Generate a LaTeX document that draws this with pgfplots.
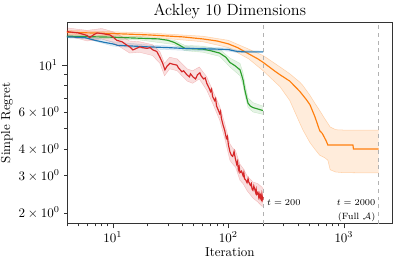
\documentclass[border=0pt]{standalone}
\usepackage{pgfplots}
\pgfplotsset{compat=1.18}
\usepackage{pgfplotstable}
\usepgfplotslibrary{fillbetween}
\definecolor{tabblue}{HTML}{1F77B4}
\definecolor{taborange}{HTML}{FF7F0E}
\definecolor{tabgreen}{HTML}{2CA02C}
\definecolor{tabred}{HTML}{D62728}

\pgfplotstableread{
x y
4 13.6
5.7 13.5
7 13.1
8.5 12.8
10 12.6
11 12.4
15 12.3
20 12.2
30 12.1
40 12.0
60 11.95
80 11.9
100 11.85
110 11.7
120 11.6
140 11.55
200 11.55
}\bluemean
\pgfplotstableread{
x lo hi
4 13.45 13.75
6 13.3 13.7
10 12.3 12.9
20 11.95 12.45
40 11.75 12.25
100 11.65 12.05
120 11.45 11.75
200 11.45 11.65
}\blueband

\pgfplotstableread{
x y
4 13.7
10 13.55
17 13.4
25 13.3
30 13.1
34 12.8
38 12.4
42 12.0
60 11.9
70 11.7
84 11.4
95 10.9
103 10.3
115 9.9
126 9.5
130 9.0
134 8.5
139 7.6
144 7.0
148 6.6
155 6.4
163 6.3
180 6.2
199 6.1
}\greenmean
\pgfplotstableread{
x lo hi
4 13.5 13.9
17 13.15 13.65
34 12.5 13.1
42 11.7 12.4
60 11.5 12.3
84 11.0 11.9
103 9.8 10.8
126 8.9 10.2
134 8.0 9.2
139 7.2 8.2
148 6.3 7.0
163 6.0 6.65
199 5.85 6.4
}\greenband

\pgfplotstableread{
x y
4 14.3
10 14.1
20 13.9
40 13.6
60 13.3
80 13.0
100 12.6
120 12.1
150 11.3
180 10.7
200 10.3
250 9.4
280 9.0
340 8.4
416 7.5
470 6.9
508 6.5
561 5.7
617 4.9
650 4.75
700 4.4
726 4.19
900 4.19
1197 4.19
1210 4.01
2000 4.01
}\orangemean
\pgfplotstableread{
x lo hi
4 14.0 14.6
20 13.6 14.2
60 12.9 13.7
100 12.1 13.1
150 10.7 11.9
200 9.4 11.1
280 7.9 9.8
340 6.8 9.1
416 5.3 8.3
442 4.93 8.0
508 4.3 7.2
561 4.0 6.6
617 3.75 6.1
680 3.65 5.6
726 3.55 5.3
760 3.2 5.1
850 3.12 4.95
1000 3.1 4.93
2000 3.09 4.93
}\orangeband

\pgfplotstableread{
x y
4 14.4
4.5 14.3
5 14.2
5.5 14.0
6 13.8
6.3 13.5
6.8 13.9
7.3 14.2
8 14.1
9.4 13.9
10 13.6
10.8 13.1
12 12.9
13 12.5
14 12.2
14.9 11.8
16 12.0
17.1 12.2
18 12.1
19.7 12.0
21 12.1
22.2 11.8
24 11.6
25.5 10.9
27 10.2
28.2 9.5
29.5 9.9
31.2 10.2
33 10.1
35.8 10.0
37 9.7
39.6 9.3
41 9.4
43.7 9.0
46 8.8
47 9.1
49.3 8.8
52 8.6
54 9.0
56.6 9.2
58 8.9
61 8.6
63 8.7
65 8.2
68 7.8
70 7.5
71.5 7.7
73 7.1
76 6.8
77.5 6.95
79 6.4
82 6.1
84 5.9
85.5 6.05
87 5.6
90 5.2
93 4.9
96 4.5
98 4.6
100 4.2
103 3.9
106 3.75
109 3.7
112 3.9
115 3.6
118 3.4
120 3.5
122 3.2
124 3.3
126 3.1
130 3.15
134 3.0
136 3.1
138 2.9
142 2.85
145 2.78
148 2.9
150 2.8
155 2.7
158 2.75
160 2.6
163 2.56
166 2.68
168 2.62
172 2.5
174 2.58
176 2.45
180 2.5
183 2.38
185 2.45
188 2.35
190 2.42
193 2.33
195 2.45
198 2.32
200 2.38
}\redmean
\pgfplotstableread{
x lo hi
4 13.8 15.0
6 13.0 14.6
8 13.3 14.9
10 12.8 14.4
14 11.4 13.0
17 11.5 12.9
22 11.1 12.5
25.5 10.2 11.6
28 8.9 10.2
31 9.6 10.9
36 9.4 10.7
44 8.4 9.6
49 8.2 9.4
56 8.6 9.8
65 7.6 8.8
73 6.6 7.6
84 5.5 6.4
93 4.5 5.3
103 3.55 4.25
109 3.4 4.05
115 3.3 3.95
126 2.85 3.4
134 2.75 3.25
145 2.55 3.0
163 2.35 2.8
180 2.25 2.75
195 2.15 2.65
200 2.15 2.6
}\redband

\begin{document}
\begin{tikzpicture}
\begin{axis}[
  scale only axis,
  width=250.8pt, height=155.4pt,
  xmode=log, ymode=log,
  xmin=4, xmax=2650,
  ymin=1.775, ymax=16,
  log basis x=10,
  ytick={10},
  yticklabels={$10^{1}$},
  minor ytick={2,3,4,5,6,7,8,9},
  extra y ticks={2,3,4,6},
  extra y tick labels={$2\times10^{0}$,$3\times10^{0}$,$4\times10^{0}$,$6\times10^{0}$},
  extra y tick style={major tick length=2pt},
  tick align=outside,
  tick pos=left,
  major tick length=3.5pt,
  minor tick length=2pt,
  tick style={black!80, line width=0.5pt},
  xticklabel style={yshift=1pt},
  title={Ackley 10 Dimensions},
  title style={font=\fontsize{12.5}{14}\selectfont, yshift=-7pt},
  xlabel={Iteration},
  ylabel={Simple Regret},
  xlabel style={yshift=3pt},
  ylabel style={yshift=-6pt},
  axis line style={line width=0.6pt, black!80},
  clip=true,
]
\coordinate (bl) at (rel axis cs:0,0);
\coordinate (tr) at (rel axis cs:1,1);

% dashed markers
\addplot[black!30, dashed, line width=0.6pt, forget plot] coordinates {(200,1.775) (200,16)};
\addplot[black!30, dashed, line width=0.6pt, forget plot] coordinates {(2000,1.775) (2000,16)};

% orange
\addplot[name path=ol, taborange, draw opacity=0.3, line width=0.4pt, forget plot] table[x=x,y=lo]{\orangeband};
\addplot[name path=oh, taborange, draw opacity=0.3, line width=0.4pt, forget plot] table[x=x,y=hi]{\orangeband};
\addplot[taborange, fill opacity=0.15, draw=none, forget plot] fill between[of=ol and oh];
\addplot[taborange, line width=0.9pt] table[x=x,y=y]{\orangemean};

% green
\addplot[name path=gl, tabgreen, draw opacity=0.2, line width=0.3pt, forget plot] table[x=x,y=lo]{\greenband};
\addplot[name path=gh, tabgreen, draw opacity=0.2, line width=0.3pt, forget plot] table[x=x,y=hi]{\greenband};
\addplot[tabgreen, fill opacity=0.12, draw=none, forget plot] fill between[of=gl and gh];
\addplot[tabgreen, line width=0.9pt] table[x=x,y=y]{\greenmean};

% blue
\addplot[name path=bl2, tabblue, draw opacity=0.2, line width=0.3pt, forget plot] table[x=x,y=lo]{\blueband};
\addplot[name path=bh, tabblue, draw opacity=0.2, line width=0.3pt, forget plot] table[x=x,y=hi]{\blueband};
\addplot[tabblue, fill opacity=0.12, draw=none, forget plot] fill between[of=bl2 and bh];
\addplot[tabblue, line width=0.9pt] table[x=x,y=y]{\bluemean};

% red
\addplot[name path=rl, tabred, draw opacity=0.25, line width=0.3pt, forget plot] table[x=x,y=lo]{\redband};
\addplot[name path=rh, tabred, draw opacity=0.25, line width=0.3pt, forget plot] table[x=x,y=hi]{\redband};
\addplot[tabred, fill opacity=0.15, draw=none, forget plot] fill between[of=rl and rh];
\addplot[tabred, line width=0.9pt] table[x=x,y=y]{\redmean};

\node[anchor=west, font=\scriptsize, inner sep=1pt] at (axis cs:210,2.25) {$t = 200$};
\node[anchor=east, font=\scriptsize, inner sep=1pt] at (axis cs:1930,2.25) {$t = 2000$};
\node[anchor=east, font=\scriptsize, inner sep=1pt] at (axis cs:1930,1.91) {(Full $\mathcal{A}$)};
\end{axis}
\pgfresetboundingbox
\path (bl) ++(-51.5pt,-30pt) coordinate (BL);
\path (tr) ++(4pt,16.9pt) coordinate (TR);
\path[use as bounding box] (BL) rectangle (TR);
\end{tikzpicture}
\end{document}
